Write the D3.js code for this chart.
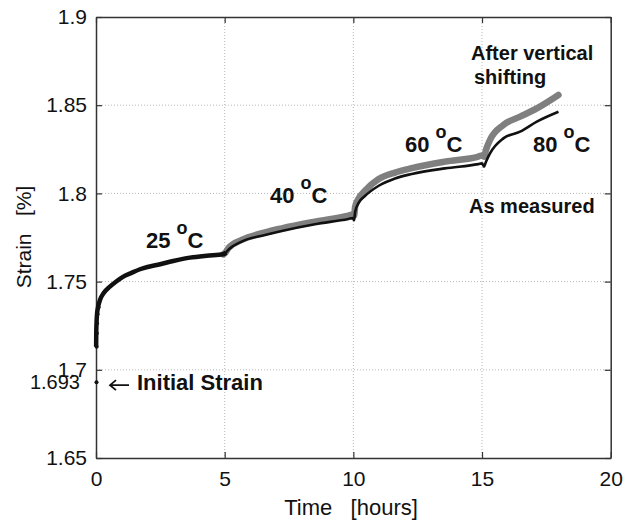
<!DOCTYPE html>
<html>
<head>
<meta charset="utf-8">
<script src="https://cdn.jsdelivr.net/npm/d3@7/dist/d3.min.js"></script>
<style>
  html, body { margin: 0; padding: 0; background: #fff; }
  svg { display: block; font-family: "Liberation Sans", Arial, sans-serif; }
</style>
</head>
<body>
<svg id="chart" width="623" height="521"></svg>
<script>
// ---- data ----
const xTicks = [0, 5, 10, 15, 20];
const xTickLabels = ["0", "5", "10", "15", "20"];
const yTicks = [1.65, 1.7, 1.75, 1.8, 1.85, 1.9];
const yTickLabels = ["1.65", "1.7", "1.75", "1.8", "1.85", "1.9"];
const initialStrain = 1.693;

const measuredTime = [0, 0.005, 0.01, 0.02, 0.04, 0.08, 0.155, 0.3, 0.54, 0.8, 1.06, 1.4, 1.71, 2.0, 2.36, 3.0, 3.65, 4.3, 4.95,
  5.05, 5.14, 5.66, 6.57, 7.22, 8.51, 9.81, 9.98, 10.03, 10.07, 10.2, 10.45, 10.97, 11.62, 12.27, 13.56, 14.86, 15.0, 15.08, 15.15,
  15.31, 15.83, 16.48, 17.13, 17.97];
const measuredStrain = [1.693, 1.713, 1.7207, 1.7264, 1.7315, 1.7355, 1.7396, 1.7435, 1.7471, 1.7502, 1.7528, 1.7551, 1.757, 1.7583,
  1.7594, 1.7617, 1.7636, 1.7647, 1.7655,
  1.7665, 1.768, 1.7727, 1.7764, 1.7787, 1.7825, 1.7855, 1.786, 1.7848, 1.7896, 1.7945, 1.7985, 1.8042, 1.8085, 1.811, 1.8142, 1.8166,
  1.817, 1.8152, 1.8178, 1.8227, 1.8312, 1.835, 1.8407, 1.8463];

const shiftedTime = [4.95, 5.05, 5.14, 5.66, 6.57, 7.22, 8.51, 9.81, 9.98, 10.03, 10.07, 10.2, 10.45, 10.97, 11.62, 12.27, 13.56,
  14.86, 15.0, 15.08, 15.15, 15.31, 15.83, 16.48, 17.13, 17.97];
const shiftedStrain = [1.7655, 1.7668, 1.7689, 1.7736, 1.7779, 1.7802, 1.784, 1.7874, 1.788, 1.7875, 1.7925, 1.797, 1.8015, 1.808,
  1.8118, 1.8143, 1.818, 1.8209, 1.8215, 1.8208, 1.8245, 1.8303, 1.8388, 1.8435, 1.8482, 1.8558];

const measured = measuredTime.map((t, i) => ({ t, v: measuredStrain[i] }));
const shifted = shiftedTime.map((t, i) => ({ t, v: shiftedStrain[i] }));

// ---- layout ----
const svg = d3.select("#chart");
const L = 96, T = 17, R = 610.7, B = 458;
const x = d3.scaleLinear().domain([0, 20]).range([L, R]);
const y = d3.scaleLinear().domain([1.65, 1.9]).range([B, T]);

// grid
const grid = svg.append("g").attr("stroke", "#b8b8b8").attr("stroke-width", 1).attr("stroke-dasharray", "1,2");
grid.selectAll("line.gx").data(xTicks.slice(1, -1)).enter().append("line")
  .attr("x1", d => x(d)).attr("x2", d => x(d)).attr("y1", T).attr("y2", B);
grid.selectAll("line.gy").data(yTicks.slice(1, -1)).enter().append("line")
  .attr("x1", L).attr("x2", R).attr("y1", d => y(d)).attr("y2", d => y(d));

// axes (inward ticks on all sides)
const fontSize = 21;
const axB = svg.append("g").attr("transform", `translate(0,${B})`)
  .call(d3.axisBottom(x).tickValues(xTicks).tickFormat((d, i) => xTickLabels[i]).tickSizeInner(-6).tickSizeOuter(0).tickPadding(13));
const axT = svg.append("g").attr("transform", `translate(0,${T})`)
  .call(d3.axisTop(x).tickValues(xTicks).tickFormat("").tickSizeInner(-6).tickSizeOuter(0));
const axL = svg.append("g").attr("transform", `translate(${L},0)`)
  .call(d3.axisLeft(y).tickValues(yTicks).tickFormat((d, i) => yTickLabels[i]).tickSizeInner(-6).tickSizeOuter(0).tickPadding(9));
const axR = svg.append("g").attr("transform", `translate(${R},0)`)
  .call(d3.axisRight(y).tickValues(yTicks).tickFormat("").tickSizeInner(-6).tickSizeOuter(0));
[axB, axT, axL, axR].forEach(a => {
  a.select(".domain").attr("stroke", "#333").attr("stroke-width", 1.5);
  a.selectAll(".tick line").attr("stroke", "#333").attr("stroke-width", 1.2);
  a.selectAll("text").attr("font-size", fontSize).attr("fill", "#111")
    .attr("font-family", "'Liberation Sans', Arial, sans-serif");
});

// extra tick label for initial strain
svg.append("text").attr("x", L - 16).attr("y", y(initialStrain)).attr("dy", "0.36em")
  .attr("text-anchor", "end").attr("font-size", 20).attr("fill", "#111").text(String(initialStrain));

// series
const line = d3.line().x(d => x(d.t)).y(d => y(d.v)).curve(d3.curveMonotoneX);
const plot = svg.append("g");
plot.append("path").datum(shifted).attr("fill", "none").attr("stroke", "#7f7f7f")
  .attr("stroke-width", 6.5).attr("stroke-linejoin", "round").attr("stroke-linecap", "round").attr("d", line);
plot.append("path").datum(measured.slice(1).filter(d => d.t <= 5.05)).attr("fill", "none").attr("stroke", "#111")
  .attr("stroke-width", 4.5).attr("stroke-linejoin", "round").attr("d", line);
plot.append("path").datum(measured.slice(1)).attr("fill", "none").attr("stroke", "#111")
  .attr("stroke-width", 2.6).attr("stroke-linejoin", "round").attr("d", line);
plot.selectAll("circle").data(measured.slice(0, 6)).enter().append("circle")
  .attr("cx", d => x(d.t) + 0.5).attr("cy", d => y(d.v)).attr("r", 2).attr("fill", "#111");

// axis labels
svg.append("text").attr("transform", `translate(23,237) rotate(-90)`).attr("text-anchor", "middle")
  .attr("dominant-baseline", "central").attr("font-size", fontSize).attr("fill", "#111")
  .style("white-space", "pre").text("Strain   [%]");
svg.append("text").attr("x", 351).attr("y", 515).attr("text-anchor", "middle")
  .attr("font-size", 22).attr("fill", "#111").style("white-space", "pre").text("Time   [hours]");

// annotations
function tempLabel(px, py, num) {
  const t = svg.append("text").attr("x", px).attr("y", py).attr("font-size", 22).attr("font-weight", "bold").attr("fill", "#111");
  t.append("tspan").text(num + " ");
  t.append("tspan").attr("font-size", 18).attr("dy", -14).text("o");
  t.append("tspan").attr("dy", 14).text("C");
}
tempLabel(146, 248, "25");
tempLabel(270, 203, "40");
tempLabel(405, 152, "60");
tempLabel(533, 152, "80");

const bold = (px, py, s, fs) => svg.append("text").attr("x", px).attr("y", py).attr("font-size", fs || 20)
  .attr("font-weight", "bold").attr("fill", "#111").text(s);
bold(471, 60, "After vertical");
bold(474, 84, "shifting");
bold(469, 213, "As measured");
// arrow pointing at the initial strain point
const ay = y(initialStrain) + 3;
svg.append("path").attr("d", `M129,${ay} H110 M116,${ay - 5} L110,${ay} L116,${ay + 5}`)
  .attr("fill", "none").attr("stroke", "#111").attr("stroke-width", 1.8).attr("stroke-linejoin", "miter");
bold(137, 390, "Initial Strain", 22);
</script>
</body>
</html>
